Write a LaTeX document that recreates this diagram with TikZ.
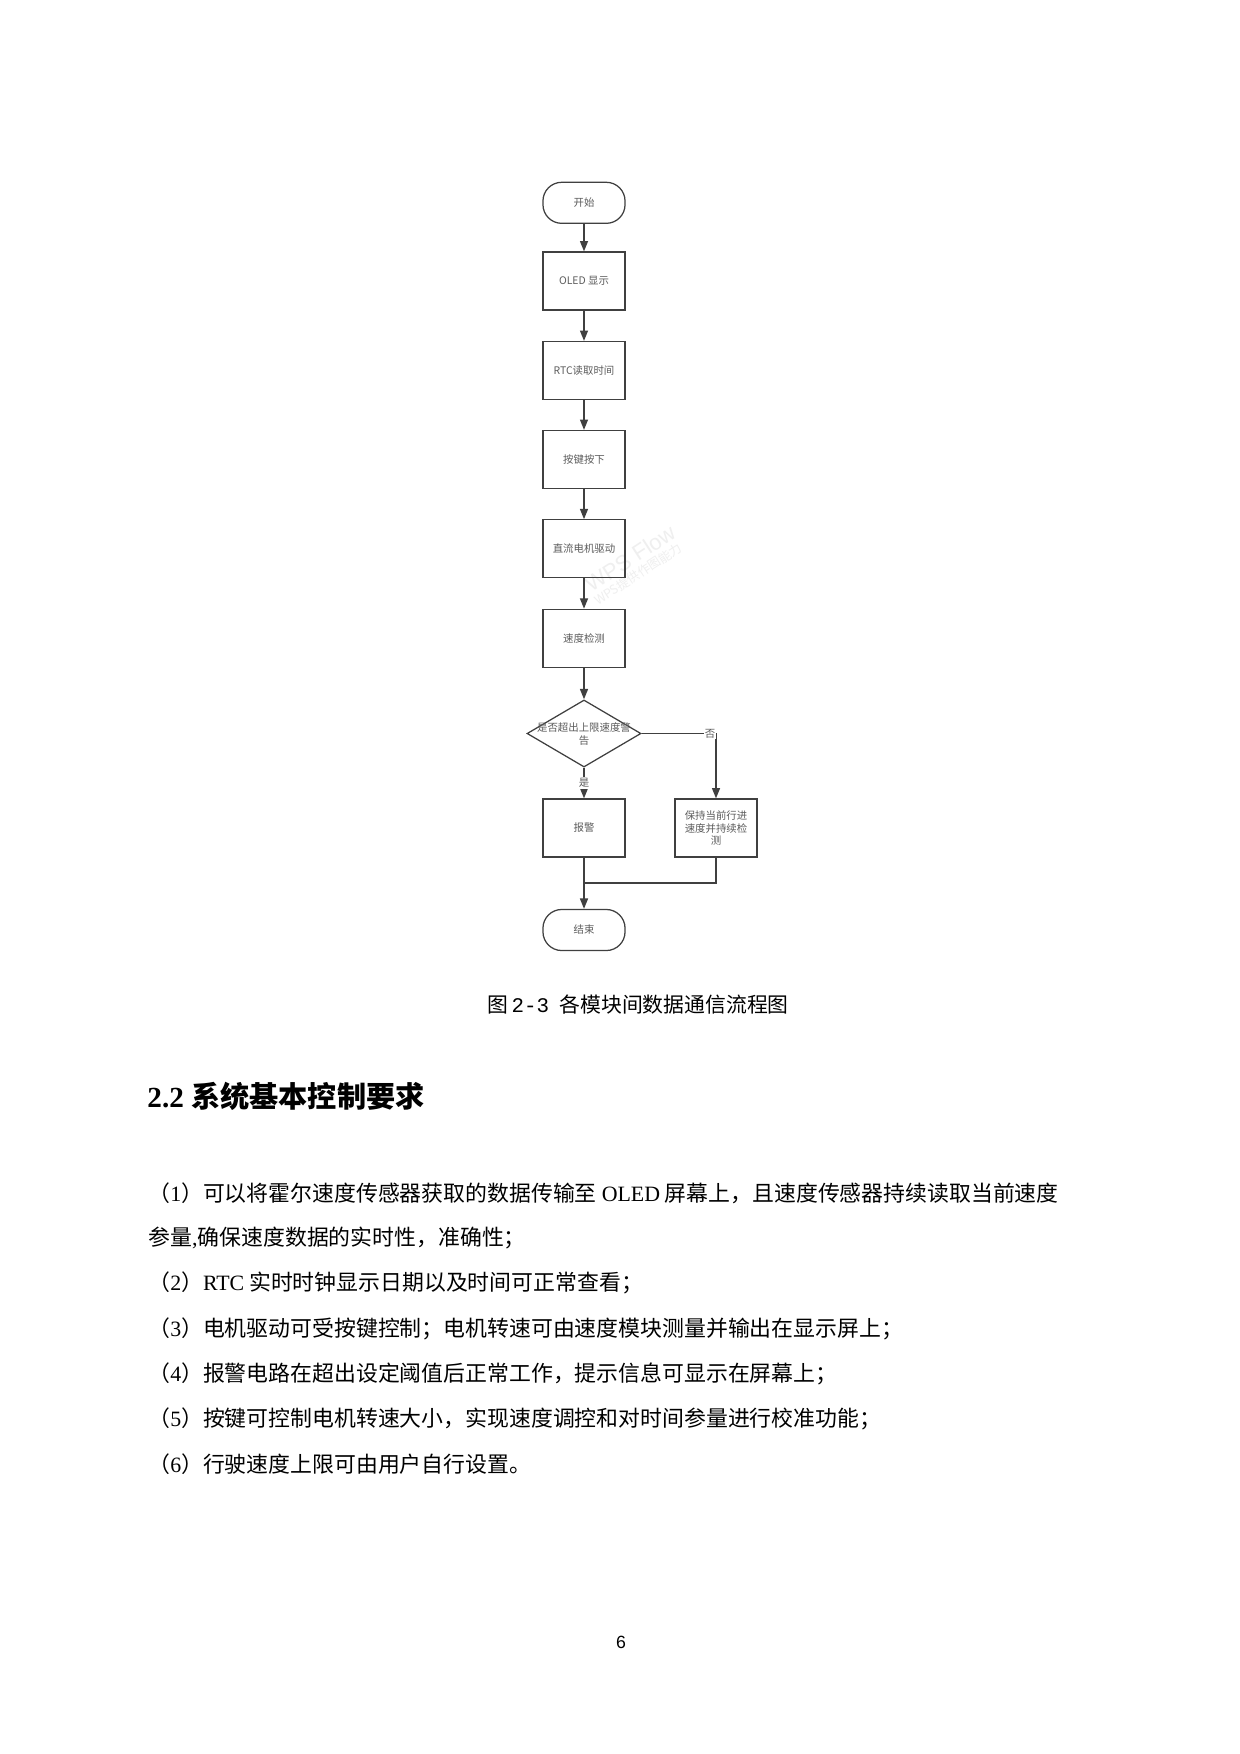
\documentclass[tikz,border=0pt]{standalone}
\usepackage{fontspec}
\setmainfont{Liberation Serif}
\newfontfamily\cjk{Noto Sans CJK SC}
\newfontfamily\pnum{Liberation Sans}
\newfontfamily\capnum{Liberation Mono}
\usetikzlibrary{positioning,shapes.geometric,arrows.meta,calc}
\definecolor{flowline}{HTML}{404040}
\definecolor{flowtext}{HTML}{5C5C5C}
\definecolor{wmark}{HTML}{EFEFEF}
\newcommand{\en}[1]{{\rmfamily #1}}
\begin{document}
\begin{tikzpicture}[x=0.48pt,y=-0.48pt]
\tikzset{
  flw/.style={draw=flowline, line width=0.6pt, text=flowtext, font=\cjk\fontsize{5}{6.2}\selectfont, align=center, inner sep=1pt},
  procbox/.style={flw, rectangle, minimum width=39.4pt, minimum height=27.8pt},
  termbox/.style={flw, rectangle, rounded corners=9pt, minimum width=39.4pt, minimum height=19.7pt},
  decbox/.style={flw, diamond, minimum width=54.7pt, minimum height=32.2pt, inner sep=0pt},
  flwtxt/.style={text=flowtext, font=\cjk\fontsize{5}{6.2}\selectfont, align=center, inner sep=0pt},
  arr/.style={draw=flowline, line width=0.8pt, -{Triangle[length=5pt,width=3.8pt]}},
  lnk/.style={draw=flowline, line width=0.8pt},
  yn/.style={flwtxt, fill=white, inner sep=0.5pt},
  wmk/.style={rotate=33, text=wmark, inner sep=0pt},
  bodyline/.style={anchor=west, inner sep=0pt, font=\cjk\fontsize{10.5}{12}\selectfont},
}
\useasboundingbox[fill=white] (0,0) rectangle (1240,1754);

%% watermark
\node[wmk, font=\pnum\fontsize{10.5}{12}\selectfont] (wm) at (630,558) {WPS Flow};
\node[wmk, font=\cjk\fontsize{6}{7}\selectfont] (wmsub) at (638,574) {WPS提供作图能力};

%% Flow chart
\node[termbox] (start) at (584,202.8) {开始};
\node[procbox] (oled) at (584,281) {OLED 显示};
\node[procbox] (rtc) at (584,370.5) {RTC读取时间};
\node[procbox] (key) at (584,459.5) {按键按下};
\node[procbox] (motor) at (584,548.8) {直流电机驱动};
\node[procbox] (speed) at (584,638.3) {速度检测};
\node[decbox] (dec) at (584,733.5) {};
\node[flwtxt] (dectxt) at (584,734.5) {是否超出上限速度警\\告};
\node[procbox] (alarm) at (584,828) {报警};
\node[procbox] (keep) at (716,828) {保持当前行进\\速度并持续检\\测};
\node[termbox] (stop) at (584,930) {结束};

\draw[arr] (start) -- (oled);
\draw[arr] (oled) -- (rtc);
\draw[arr] (rtc) -- (key);
\draw[arr] (key) -- (motor);
\draw[arr] (motor) -- (speed);
\draw[arr] (speed) -- (dec);
\draw[arr] (dec) -- node[yn] {是} (alarm);
\draw[arr] (dec.east) -| node[yn, pos=0.46] {否} (keep.north);
\draw[arr] (alarm) -- (stop);
\coordinate (mrg) at ($(alarm.south)!.5!(stop.north)$);
\draw[lnk] (keep.south) |- (mrg);

%% caption
\node[font=\cjk\fontsize{10}{12}\selectfont, inner sep=0pt] (cap) at (638,1005) {图\,{\capnum 2-3}\enspace 各模块间数据通信流程图};

%% section heading
\node[anchor=west, inner sep=0pt, font=\fontsize{14}{16}\selectfont\bfseries] (sec) at (147,1096) {2.2 {\cjk 系统基本控制要求}};

%% body text
\node[bodyline] (ln1) at (148,1193) {（\en{1}）可以将霍尔速度传感器获取的数据传输至 \en{OLED} 屏幕上，且速度传感器持续读取当前速度};
\node[bodyline] (ln2) at (148,1238) {参量\en{,}确保速度数据的实时性，准确性；};
\node[bodyline] (ln3) at (148,1283) {（\en{2}）\en{RTC} 实时时钟显示日期以及时间可正常查看；};
\node[bodyline] (ln4) at (148,1329) {（\en{3}）电机驱动可受按键控制；电机转速可由速度模块测量并输出在显示屏上；};
\node[bodyline] (ln5) at (148,1374) {（\en{4}）报警电路在超出设定阈值后正常工作，提示信息可显示在屏幕上；};
\node[bodyline] (ln6) at (148,1419) {（\en{5}）按键可控制电机转速大小，实现速度调控和对时间参量进行校准功能；};
\node[bodyline] (ln7) at (148,1464) {（\en{6}）行驶速度上限可由用户自行设置。};

%% page number
\node[font=\pnum\fontsize{8.5}{10}\selectfont] (pg) at (621,1642) {6};
\end{tikzpicture}
\end{document}
